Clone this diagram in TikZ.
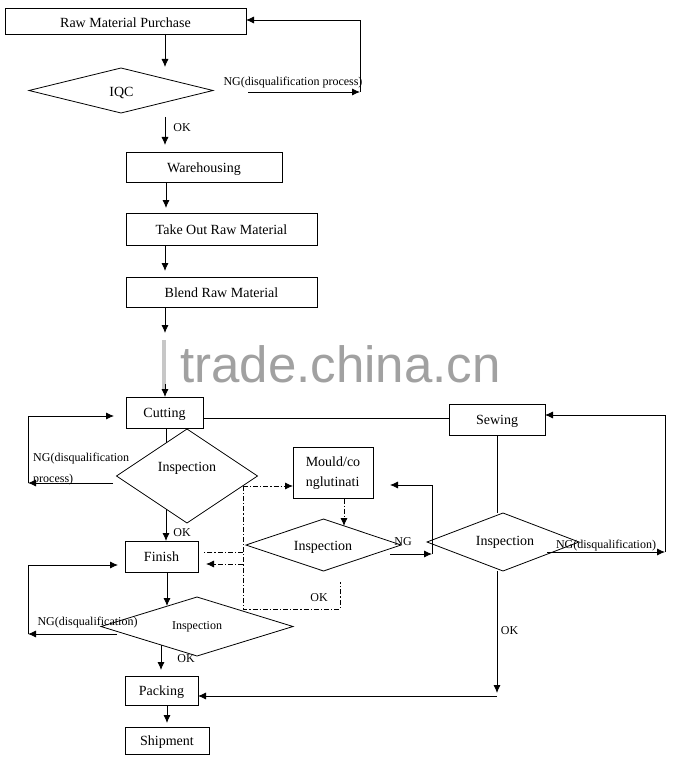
\documentclass[tikz,border=0pt]{standalone}
\usepackage{fontspec}
\setmainfont{Liberation Serif}
\newfontfamily\wmfont{Liberation Sans}
\usetikzlibrary{shapes.geometric,arrows.meta}
\begin{document}
\begin{tikzpicture}[x=1pt,y=-1pt,
  ln/.style={line width=0.8pt},
  arr/.style={ln,-{Latex[length=8pt,width=7pt]}},
  dd/.style={ln,dash pattern=on 5pt off 2pt on 1.2pt off 2pt},
  ddarr/.style={dd,-{Latex[length=8pt,width=7pt]}},
  box/.style={draw,ln,rectangle,inner sep=0pt,outer sep=0pt,text height=10pt,text depth=0pt,font=\fontsize{14}{16}\selectfont},
  dia/.style={draw,ln,diamond,inner sep=0pt,outer sep=0pt},
  dtext/.style={font=\fontsize{14}{16}\selectfont,inner sep=0pt,text height=9.5pt,text depth=0pt},
  lbl/.style={font=\fontsize{12}{14}\selectfont,inner sep=0pt,text height=8pt,text depth=0pt},
]
\useasboundingbox (0,0) rectangle (677,762);
\fill[white] (0,0) rectangle (677,762);

% watermark
\node[anchor=base west,inner sep=0pt,font=\wmfont\fontsize{51}{51}\selectfont,text=black!37] (wm) at (180,382) {trade.china.cn};

% boxes
\node[box,minimum width=241pt,minimum height=26pt,text height=13.5pt] (rmp) at (125.5,21) {Raw Material Purchase};
\node[box,minimum width=156pt,minimum height=30pt] (wh) at (204,167) {Warehousing};
\node[box,minimum width=191pt,minimum height=32pt] (tor) at (221.5,229) {Take Out Raw Material};
\node[box,minimum width=191pt,minimum height=30pt] (brm) at (221.5,292) {Blend Raw Material};
\node[box,minimum width=77pt,minimum height=31pt] (cut) at (164.5,412.5) {Cutting};
\node[box,minimum width=96pt,minimum height=31pt] (sew) at (497,419.5) {Sewing};
\node[box,minimum width=80pt,minimum height=51pt,align=left,text height=,text depth=,font=\fontsize{14}{20}\selectfont] (mould) at (333,473) {Mould/co\\nglutinati};
\node[box,minimum width=73pt,minimum height=31pt] (fin) at (161.5,556.5) {Finish};
\node[box,minimum width=73pt,minimum height=29pt] (pack) at (161.5,690.5) {Packing};
\node[box,minimum width=84pt,minimum height=27pt] (ship) at (167,740.5) {Shipment};

% diamonds
\node[dia,minimum width=184pt,minimum height=45pt] (iqc) at (121,90.5) {};
\node[dtext] (iqct) at (121.5,92) {IQC};
\node[dia,minimum width=141pt,minimum height=94pt] (d1) at (187,476) {};
\node[dtext] (d1t) at (187,467) {Inspection};
\node[dia,minimum width=155pt,minimum height=52pt] (d2) at (323.5,545) {};
\node[dtext] (d2t) at (323,546) {Inspection};
\node[dia,minimum width=152pt,minimum height=58pt] (d3) at (503,542) {};
\node[dtext] (d3t) at (505,541) {Inspection};
\node[dia,minimum width=192pt,minimum height=59pt] (d4) at (197,626.5) {};
\node[dtext,font=\fontsize{12}{14}\selectfont,text height=8pt] (d4t) at (197,625) {Inspection};

% main flow
\coordinate (a1) at (165,67);
\draw[arr] (rmp.south -| a1) -- (a1);
\coordinate (ok1s) at (165,117); \coordinate (ok1e) at (165,145);
\draw[arr] (ok1s) -- (ok1e);
\node[lbl] (ok1) at (182,128) {OK};

\coordinate (ng1s) at (248,92); \coordinate (ng1c) at (360,92); \coordinate (ng1t) at (360,20);
\draw[arr] (ng1s) -- (ng1c);
\draw[arr] (ng1c) -- (ng1t) -- (rmp.east |- ng1t);
\node[lbl] (ng1) at (293,82) {NG(disqualification process)};

\coordinate (a3) at (166,208); \draw[arr] (wh.south -| a3) -- (a3);
\coordinate (a4) at (165,271); \draw[arr] (tor.south -| a4) -- (a4);
\coordinate (a5) at (165,333); \draw[arr] (brm.south -| a5) -- (a5);
\coordinate (a6) at (164,340); \coordinate (a6e) at (164,390);
\draw[line width=4pt,black!22] (a6) -- (a6e);
\coordinate (a6m) at (165,384);
\draw[arr] (a6m) -- (cut.north -| a6m);

\coordinate (h1) at (0,418);
\draw[ln] (cut.east |- h1) -- (sew.west |- h1);

% cutting NG loop
\coordinate (ng2s) at (113,483); \coordinate (ng2c) at (28,483); \coordinate (ng2t) at (28,416); \coordinate (ng2e) at (114,416);
\draw[arr] (ng2s) -- (ng2c);
\draw[arr] (ng2c) -- (ng2t) -- (ng2e);
\node[lbl,anchor=west] (ng2a) at (33,457) {NG(disqualification};
\node[lbl,anchor=west] (ng2b) at (33,478) {process)};

\coordinate (a7) at (166,443); \draw[ln] (cut.south -| a7) -- (a7);
\coordinate (a8) at (166,509); \draw[arr] (a8) -- (fin.north -| a8);
\node[lbl] (ok2) at (182,532) {OK};

% dash-dot branch
\coordinate (p1) at (243,486); \coordinate (p2) at (243,609); \coordinate (p3) at (340,609); \coordinate (p4) at (340,582);
\draw[ddarr] (p1) -- (mould.west |- p1);
\draw[dd] (p1) -- (p2) -- (p3) -- (p4);
\node[lbl] (ok3) at (319,597) {OK};
\coordinate (q1) at (243,552); \coordinate (q1e) at (203,552);
\draw[dd] (q1) -- (q1e);
\coordinate (q2) at (243,564); \coordinate (q2e) at (206,564);
\draw[ddarr] (q2) -- (q2e);
\coordinate (a9) at (344,526); \draw[ddarr] (mould.south -| a9) -- (a9);

% inspection 2 NG
\coordinate (r1) at (390,554); \coordinate (r2) at (432,554); \coordinate (r3) at (432,485); \coordinate (r4) at (390,485);
\draw[arr] (r1) -- (r2);
\draw[arr] (r2) -- (r3) -- (r4);
\node[lbl] (ng3) at (403,541) {NG};

% sewing
\coordinate (a10) at (497,513); \draw[ln] (sew.south -| a10) -- (a10);
\coordinate (s1) at (547,552); \coordinate (s2) at (665,552); \coordinate (s3) at (665,415);
\draw[arr] (s1) -- (s2);
\draw[arr] (s2) -- (s3) -- (sew.east |- s3);
\node[lbl] (ng4) at (606,544) {NG(disqualification)};
\coordinate (t1) at (497,571); \coordinate (t2) at (497,693); \coordinate (t3) at (497,696);
\draw[arr] (t1) -- (t2);
\draw[arr] (t3) -- (pack.east |- t3);
\node[lbl] (ok4) at (509.5,630) {OK};

% finish inspection
\coordinate (a11) at (167,606); \draw[arr] (fin.south -| a11) -- (a11);
\coordinate (u1) at (117,634); \coordinate (u2) at (28,634); \coordinate (u3) at (28,565); \coordinate (u4) at (118,565);
\draw[arr] (u1) -- (u2);
\draw[arr] (u2) -- (u3) -- (u4);
\node[lbl] (ng5) at (87.5,621) {NG(disqualification)};
\coordinate (v1) at (161,645); \coordinate (v2) at (161,670);
\draw[arr] (v1) -- (v2);
\node[lbl] (ok5) at (186,658) {OK};

\coordinate (a12) at (167,723); \draw[arr] (pack.south -| a12) -- (a12);
\end{tikzpicture}
\end{document}
